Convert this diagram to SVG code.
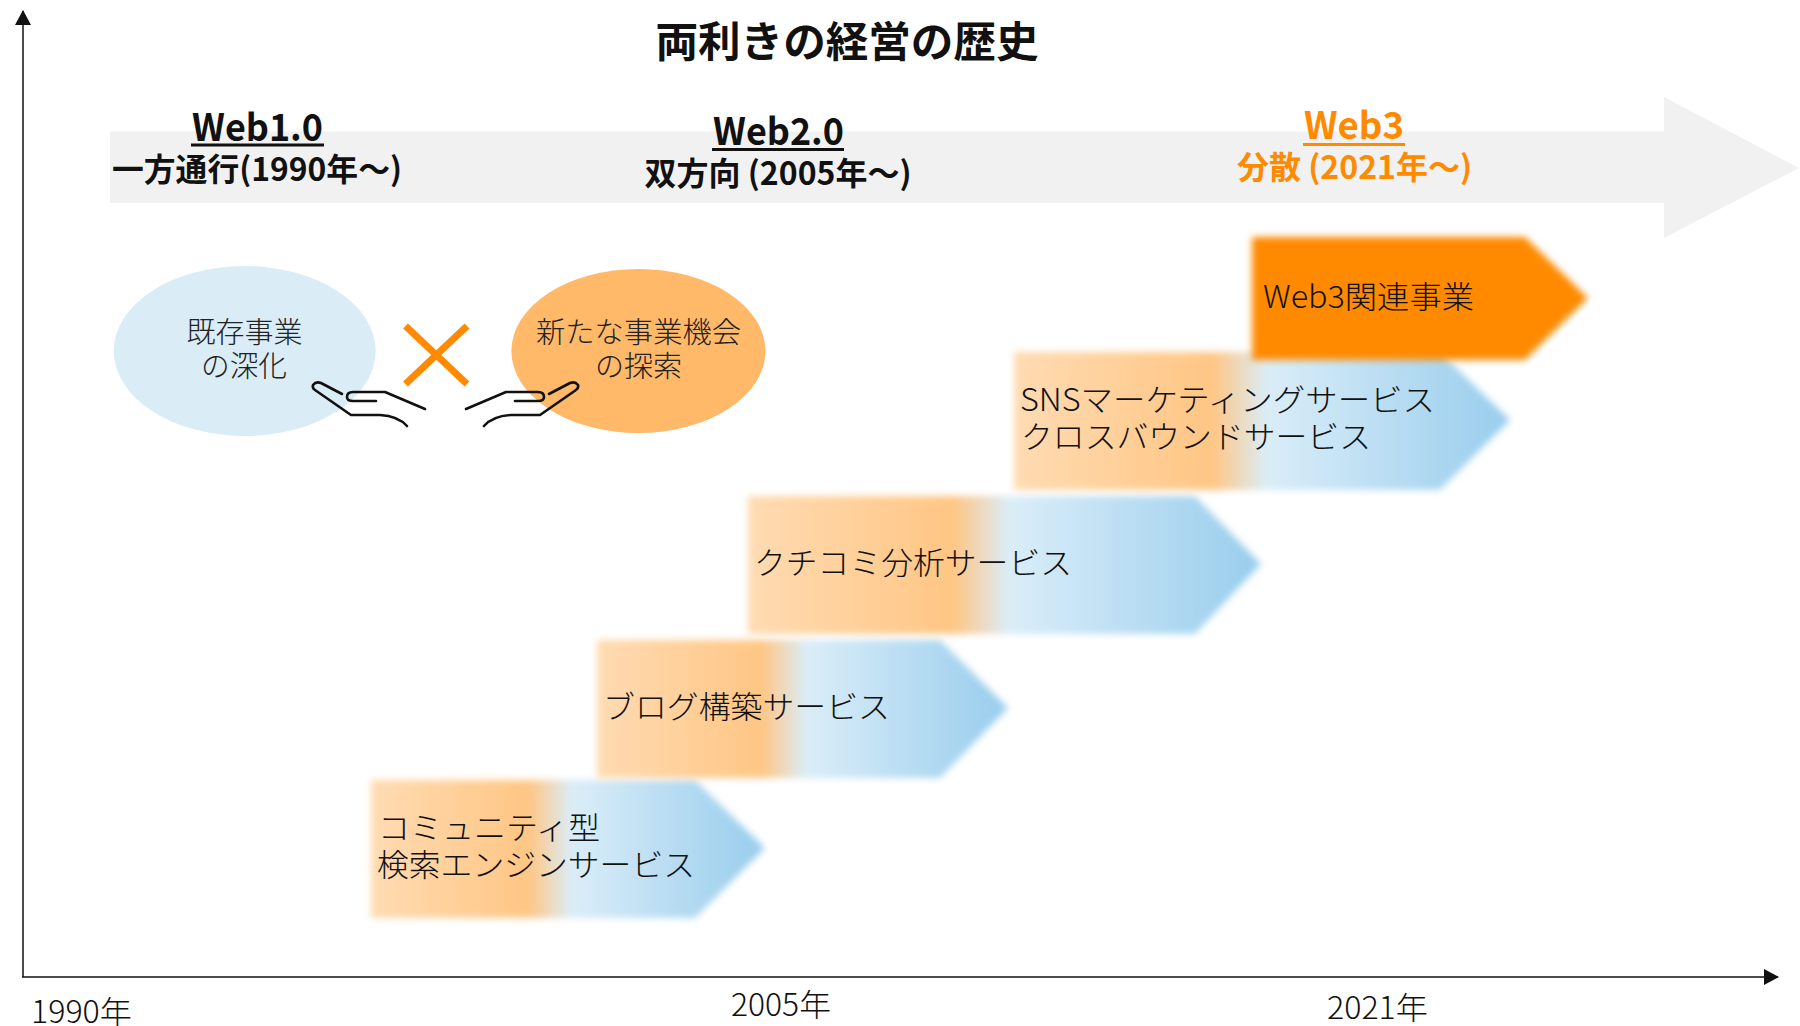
<svg xmlns="http://www.w3.org/2000/svg" width="1800" height="1026" viewBox="0 0 1800 1026">
<style>
text{font-family:"Noto Sans CJK JP","Noto Sans",sans-serif;fill:#111}
.l{font-weight:300;font-size:31px}
.n{font-weight:300;font-size:29px;fill:#222}
.h{font-weight:700;font-size:38px}
.s{font-weight:700;font-size:32px}
.o{fill:#FF8A00}
.u{fill:none;stroke:#111;stroke-width:3}
.hand{fill:none;stroke:#111;stroke-width:2.6;stroke-linecap:round;stroke-linejoin:round}
</style>
<defs>
<linearGradient id="g"><stop offset="0" stop-color="#FFDBB2"/><stop offset=".4" stop-color="#FFC684"/><stop offset=".51" stop-color="#DAEDF8"/><stop offset="1" stop-color="#98CDED"/></linearGradient>
<filter id="b" x="-5%" y="-8%" width="110%" height="116%"><feGaussianBlur stdDeviation="3.500"/></filter>
<marker id="a" markerWidth="16" markerHeight="16" refX="14" refY="8" orient="auto" markerUnits="userSpaceOnUse"><path d="M0 0L15 8L0 16z" fill="#111"/></marker>
</defs>
<rect width="1800" height="1026" fill="#fff"/>
<g id="timeline-arrow"><path d="M110 131.500H1664V97L1799 168L1664 238V203H110z" fill="#F1F1F1"/></g>
<g id="connectors">
<path d="M23 977V11" stroke="#111" stroke-width="1.500" fill="none" marker-end="url(#a)"/>
<path d="M22 977H1778" stroke="#111" stroke-width="1.500" fill="none" marker-end="url(#a)"/>
</g>
<text id="title" x="847" y="57" text-anchor="middle" textLength="383" lengthAdjust="spacingAndGlyphs" style="font-size:42px;font-weight:700">両利きの経営の歴史</text>
<g id="web1">
<text class="h" x="192" y="141" textLength="131" lengthAdjust="spacingAndGlyphs">Web1.0</text><path class="u" d="M191 145H324" stroke-width="2"/>
<text class="s" x="112" y="181" textLength="290" lengthAdjust="spacingAndGlyphs">一方通行(1990年～)</text>
</g>
<g id="web2">
<text class="h" x="713" y="145" textLength="131" lengthAdjust="spacingAndGlyphs">Web2.0</text><path class="u" d="M712 149.500H844"/>
<text class="s" x="644.500" y="185" textLength="267" lengthAdjust="spacingAndGlyphs">双方向 (2005年～)</text>
</g>
<g id="web3">
<text class="h o" x="1304" y="139" textLength="100" lengthAdjust="spacingAndGlyphs">Web3</text><path class="u" d="M1303 144.500H1405" style="stroke:#FF8A00"/>
<text class="s o" x="1237" y="179" textLength="235" lengthAdjust="spacingAndGlyphs">分散 (2021年～)</text>
</g>
<g id="existing">
<ellipse cx="244.700" cy="351" rx="131" ry="85" fill="#DAEDF7"/>
<text class="n" x="186.500" y="343" textLength="116" lengthAdjust="spacingAndGlyphs">既存事業</text>
<text class="n" x="201" y="377" textLength="86" lengthAdjust="spacingAndGlyphs">の深化</text>
</g>
<g id="new">
<ellipse cx="638.400" cy="351" rx="127" ry="82" fill="#FFB969"/>
<text class="n" x="536" y="343" textLength="205" lengthAdjust="spacingAndGlyphs">新たな事業機会</text>
<text class="n" x="595" y="377" textLength="87" lengthAdjust="spacingAndGlyphs">の探索</text>
</g>
<g id="cross"><path d="M405.500 326L467 384M467 326L405.500 384" stroke="#FF8A00" stroke-width="7" fill="none"/></g>
<g id="hand-left" class="hand"><path d="M342 394L321 383Q316 381 313 385Q312 388 315 390L351 415H380Q398 416 407 426"/><path d="M425 409L385 392H353Q347 392 347 397Q347 401 353 401H376"/></g>
<g id="hand-right" class="hand" transform="translate(891 0) scale(-1 1)"><path d="M342 394L321 383Q316 381 313 385Q312 388 315 390L351 415H380Q398 416 407 426"/><path d="M425 409L385 392H353Q347 392 347 397Q347 401 353 401H376"/></g>
<g id="community"><path d="M371 780H695L765 848L695 918H371z" fill="url(#g)" filter="url(#b)"/>
<text class="l" x="378" y="839" textLength="222" lengthAdjust="spacingAndGlyphs">コミュニティ型</text>
<text class="l" x="377" y="876" textLength="318" lengthAdjust="spacingAndGlyphs">検索エンジンサービス</text></g>
<g id="blog"><path d="M597 640H940L1008 708L940 778H597z" fill="url(#g)" filter="url(#b)"/>
<text class="l" x="603" y="718" textLength="287" lengthAdjust="spacingAndGlyphs">ブログ構築サービス</text></g>
<g id="review"><path d="M748 496H1195L1261 564L1195 634H748z" fill="url(#g)" filter="url(#b)"/>
<text class="l" x="754" y="574" textLength="318" lengthAdjust="spacingAndGlyphs">クチコミ分析サービス</text></g>
<g id="sns"><path d="M1014 352H1440L1510 420L1440 490H1014z" fill="url(#g)" filter="url(#b)"/>
<text class="l" x="1020" y="411" textLength="415" lengthAdjust="spacingAndGlyphs">SNSマーケティングサービス</text>
<text class="l" x="1021" y="448" textLength="350" lengthAdjust="spacingAndGlyphs">クロスバウンドサービス</text></g>
<g id="web3-business"><path d="M1252 237H1525L1588 298L1525 360H1252z" fill="#FF8A00" filter="url(#b)"/>
<text class="l" x="1263" y="308" textLength="211" lengthAdjust="spacingAndGlyphs">Web3関連事業</text></g>
<g id="axis-labels">
<text class="l" x="31" y="1023" textLength="101" lengthAdjust="spacingAndGlyphs">1990年</text>
<text class="l" x="731" y="1016" textLength="100" lengthAdjust="spacingAndGlyphs">2005年</text>
<text class="l" x="1327" y="1019" textLength="101" lengthAdjust="spacingAndGlyphs">2021年</text>
</g>
</svg>
